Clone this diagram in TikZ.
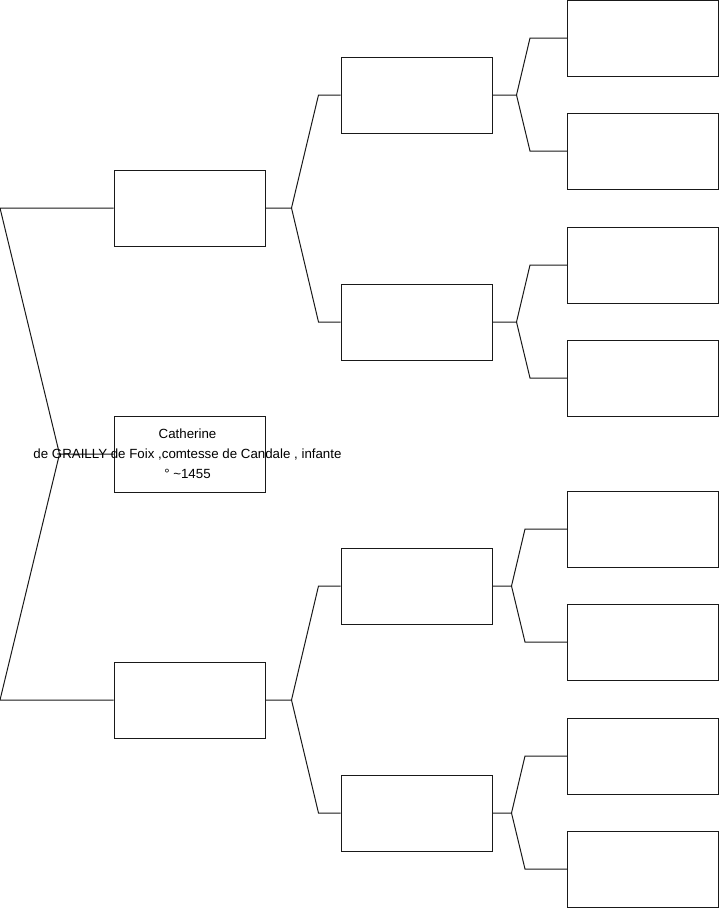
\documentclass[tikz,border=0pt]{standalone}
\usepackage{fontspec}
\setmainfont{Liberation Sans}
\usetikzlibrary{positioning, calc}
\tikzset{
	personnode/.style={
			draw=black!90,
			line width=1pt,
			fill=none,
			minimum width=151pt,
			minimum height=76pt,
			inner sep=0pt
		},
	namenode/.style={
			align=center,
			inner sep=0pt,
			font=\fontsize{13.3}{20}\selectfont
		},
	link/.style={
			draw=black!90,
			line width=1pt
		}
}

\begin{document}
\begin{tikzpicture}[x=1pt, y=-1pt]
\useasboundingbox (0,0) rectangle (719,908);
    % generation 0
    \node[personnode] (p1) at (189.5,454)  {};
    % generation 1
    \node[personnode] (p2) at (189.5,208)  {};
    \node[personnode] (p3) at (189.5,700)  {};
    % generation 2
    \node[personnode] (p4) at (416.5,95)  {};
    \node[personnode] (p5) at (416.5,322)  {};
    \node[personnode] (p6) at (416.5,586)  {};
    \node[personnode] (p7) at (416.5,813)  {};
    % generation 3
    \node[personnode] (p8) at (643,38)  {};
    \node[personnode] (p9) at (643,151)  {};
    \node[personnode] (p10) at (643,265)  {};
    \node[personnode] (p11) at (643,378)  {};
    \node[personnode] (p12) at (643,529)  {};
    \node[personnode] (p13) at (643,642)  {};
    \node[personnode] (p14) at (643,756)  {};
    \node[personnode] (p15) at (643,869)  {};

    \coordinate (e2) at (0,208);
    \coordinate (e3) at (0,700);

    \draw[link] (p1.west) -- ++(-54,0) coordinate (f1) -- (e2) -- (p2.west);
    \draw[link] (f1) -- (e3) -- (p3.west);

    \draw[link] (p2.east) -- ++(26,0) coordinate (f2) -- ([xshift=-22pt]p4.west) -- (p4.west);
    \draw[link] (f2) -- ([xshift=-22pt]p5.west) -- (p5.west);
    \draw[link] (p3.east) -- ++(26,0) coordinate (f3) -- ([xshift=-22pt]p6.west) -- (p6.west);
    \draw[link] (f3) -- ([xshift=-22pt]p7.west) -- (p7.west);

    \draw[link] (p4.east) -- ++(24,0) coordinate (f4) -- ([xshift=-37pt]p8.west) -- (p8.west);
    \draw[link] (f4) -- ([xshift=-37pt]p9.west) -- (p9.west);
    \draw[link] (p5.east) -- ++(24,0) coordinate (f5) -- ([xshift=-37pt]p10.west) -- (p10.west);
    \draw[link] (f5) -- ([xshift=-37pt]p11.west) -- (p11.west);
    \draw[link] (p6.east) -- ++(19,0) coordinate (f6) -- ([xshift=-42pt]p12.west) -- (p12.west);
    \draw[link] (f6) -- ([xshift=-42pt]p13.west) -- (p13.west);
    \draw[link] (p7.east) -- ++(19,0) coordinate (f7) -- ([xshift=-42pt]p14.west) -- (p14.west);
    \draw[link] (f7) -- ([xshift=-42pt]p15.west) -- (p15.west);

    \node[namenode] (t1) at ([xshift=-2pt]p1.center) {Catherine\\de GRAILLY de Foix ,comtesse de Candale , infante\\° \textasciitilde1455};
\end{tikzpicture}
\end{document}
